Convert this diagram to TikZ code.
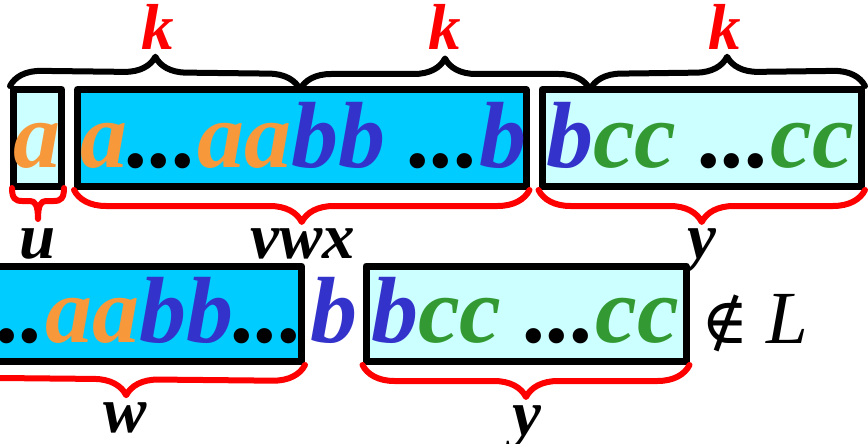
\documentclass[tikz,border=0pt]{standalone}
\usepackage{fontspec}
\setmainfont{Liberation Serif}
\newfontfamily\symf{DejaVu Serif}
\usetikzlibrary{decorations.pathreplacing}
\definecolor{orA}{RGB}{247,153,58}
\definecolor{blB}{RGB}{51,51,204}
\definecolor{grC}{RGB}{51,153,51}
\definecolor{cyD}{RGB}{0,204,255}
\definecolor{cyL}{RGB}{204,255,255}
\newcommand{\la}[1]{\textcolor{orA}{#1}}
\newcommand{\lb}[1]{\textcolor{blB}{#1}}
\newcommand{\lc}[1]{\textcolor{grC}{#1}}
\begin{document}
\begin{tikzpicture}[x=1pt,y=-1pt, line join=round, line cap=round]
	\tikzset{strbox/.style={draw,line width=7pt,inner sep=0pt,minimum height=97pt},
		word/.style={font=\fontsize{94}{100}\selectfont\bfseries\itshape,inner sep=0pt},
		lab/.style={font=\fontsize{65}{70}\selectfont\bfseries\itshape,inner sep=0pt,anchor=base},
		upbrace/.style={decorate,decoration={brace,amplitude=31pt},line width=6pt},
		lowbrace/.style={decorate,decoration={brace,amplitude=32pt,mirror},line width=6pt,red}}
	\useasboundingbox (0,0) rectangle (868,444);
	% top row
	\node[strbox,fill=cyL,minimum width=48pt] (bu) at (37.5,138) {};
	\node[strbox,fill=cyD,minimum width=448.5pt] (bvwx) at (301.75,138) {};
	\node[strbox,fill=cyL,minimum width=319.5pt] (by) at (701.75,138) {};
	\node[word,anchor=base] (tu) at (37,167) {\la{a}};
	\node[word,anchor=base west] (tvwx) at (80,167) {\la{a}...\la{aa}\lb{bb} ...\lb{b}};
	\node[word,anchor=base west] (ty) at (546,167) {\lb{b}\lc{cc} ...\lc{cc}};
	\coordinate (k1) at (300,89.5);
	\coordinate (k2) at (590,89.5);
	\draw[upbrace] (bu.north west) -- (k1);
	\draw[upbrace] (k1) -- (k2);
	\draw[upbrace] (k2) -- (by.north east);
	\node[lab,red] (lk1) at (158,50) {k};
	\node[lab,red] (lk2) at (445,50) {k};
	\node[lab,red] (lk3) at (725,50) {k};
	\draw[red,line width=6pt] (12,188) .. controls (12,198) and (15,201) .. (22,201) -- (30,201)
		.. controls (35,201) and (38,205) .. (38,219) .. controls (38,205) and (41,201) .. (46,201)
		-- (54,201) .. controls (61,201) and (64,198) .. (64,188);
	\draw[lowbrace] (bvwx.south west) -- (bvwx.south east);
	\draw[lowbrace] (by.south west) -- (by.south east);
	\node[lab] (lu) at (38,258) {u};
	\node[lab] (lvwx) at (303,258) {vwx};
	\node[lab] (ly) at (702,258) {y};
	% bottom row
	\node[strbox,fill=cyD,minimum width=331.5pt,minimum height=95.5pt] (bw) at (135.75,313.75) {};
	\node[strbox,fill=cyL,minimum width=320pt,minimum height=95.5pt] (by2) at (526,313.75) {};
	\node[word,anchor=base east] (tw) at (304,342) {...\la{aa}\lb{bb}...};
	\node[word,anchor=base west] (tx) at (310,342) {\lb{b}};
	\node[word,anchor=base west] (ty2) at (371,342) {\lb{b}\lc{cc} ...\lc{cc}};
	\node[anchor=base west,inner sep=0pt,font=\fontsize{64}{68}\selectfont\symf] (nin) at (701,343) {∉};
	\node[anchor=base west,inner sep=0pt,font=\fontsize{75}{80}\selectfont\itshape] (lL) at (766,343) {L};
	\coordinate (wl) at (-52,361.5);
	\draw[lowbrace] (wl) -- (bw.south east);
	\draw[lowbrace] (by2.south west) -- (by2.south east);
	\node[lab] (lw) at (125,432) {w};
	\node[lab] (ly2) at (527,435) {y};
\end{tikzpicture}
\end{document}
